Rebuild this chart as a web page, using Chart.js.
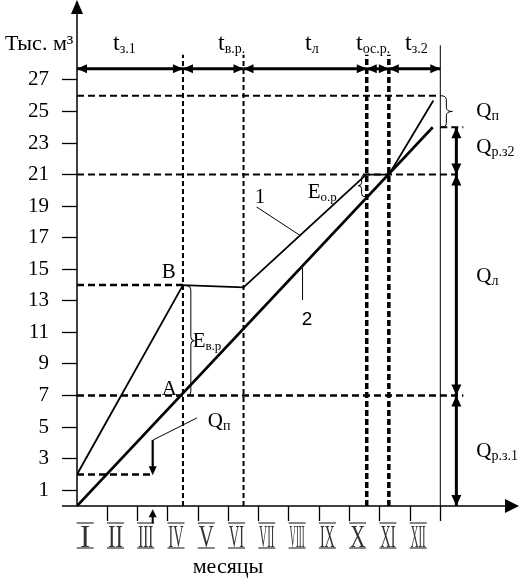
<!DOCTYPE html>
<html><head><meta charset="utf-8">
<script src="https://cdn.jsdelivr.net/npm/chart.js@4/dist/chart.umd.min.js"></script>
<style>html,body{margin:0;padding:0;background:#fff;}</style>
</head><body>
<canvas id="c" width="522" height="580"></canvas>
<script>
// ---- data ----
const months = ['I','II','III','IV','V','VI','VII','VIII','IX','X','XI','XII'];
const yTickValues = [1,3,5,7,9,11,13,15,17,19,21,23,25,27];
const line1X = [0, 3.5, 5.5, 9.55, 10.3, 11.77];
const line1Y = [2, 14, 13.85, 21, 21, 25.7];
const line2X = [0, 11.75];
const line2Y = [0, 24];
const periodBounds = [0, 3.5, 5.5, 9.57, 10.3, 12];
const periodSubs = ['з.1', 'в.р.', 'л', 'ос.р.', 'з.2'];
const levelY    = [2, 7, 14, 21, 24, 26];
const levelFrom = [0, 0, 0, 0, 12, 0];
const levelTo   = [2.5, 12.76, 3.5, 12.66, 12.76, 12];
const volumeBounds = [0, 7, 21, 24];

const SERIF = '"Liberation Serif", "DejaVu Serif", serif';

function seg(x1, y1, x2, y2, w, dash) {
  return { type: 'line', data: [{x: x1, y: y1}, {x: x2, y: y2}], borderColor: '#000',
    borderWidth: w, borderDash: dash || [], pointRadius: 0, fill: false, tension: 0 };
}
const datasets = [];
datasets.push({ type: 'line', label: '1', data: line1X.map((v, i) => ({x: v, y: line1Y[i]})),
  borderColor: '#000', borderWidth: 1.8, pointRadius: 0, fill: false, tension: 0 });
datasets.push({ type: 'line', label: '2', data: line2X.map((v, i) => ({x: v, y: line2Y[i]})),
  borderColor: '#000', borderWidth: 2.6, pointRadius: 0, fill: false, tension: 0 });
levelY.forEach((v, i) => datasets.push(seg(levelFrom[i], v, levelTo[i], v, (v === 7 || v === 2 || v === 14) ? 2.5 : 2, [7, 4])));
periodBounds.slice(1, 5).forEach((v, i) => datasets.push(seg(v, 0, v, 28.6, i < 2 ? 2 : 3.5, i < 2 ? [5, 3] : [6, 3])));
datasets.push(seg(12, 0, 12, 29.2, 1, []));

function head(ctx, x1, y1, x2, y2, len, w) {
  const a = Math.atan2(y2 - y1, x2 - x1), c = Math.cos(a), s = Math.sin(a);
  ctx.beginPath();
  ctx.moveTo(x2, y2);
  ctx.lineTo(x2 - len * c + w * s, y2 - len * s - w * c);
  ctx.lineTo(x2 - len * c - w * s, y2 - len * s + w * c);
  ctx.closePath(); ctx.fill();
}
function line(ctx, x1, y1, x2, y2, w) {
  ctx.lineWidth = w; ctx.beginPath(); ctx.moveTo(x1, y1); ctx.lineTo(x2, y2); ctx.stroke();
}
function brace(ctx, x, y1, y2, d, a, r) {
  const m = (y1 + y2) / 2;
  ctx.lineWidth = 1; ctx.beginPath();
  ctx.moveTo(x - d * a / 2, y1);
  ctx.quadraticCurveTo(x, y1, x, y1 + r);
  ctx.lineTo(x, m - r);
  ctx.quadraticCurveTo(x, m, x + d * a / 2, m);
  ctx.quadraticCurveTo(x, m, x, m + r);
  ctx.lineTo(x, y2 - r);
  ctx.quadraticCurveTo(x, y2, x - d * a / 2, y2);
  ctx.stroke();
}
function sub(ctx, main, s, x, y, ms, ss, dy) {
  ctx.textAlign = 'left'; ctx.textBaseline = 'alphabetic';
  ctx.font = ms + 'px ' + SERIF;
  ctx.fillText(main, x, y);
  const w = ctx.measureText(main).width;
  ctx.font = ss + 'px ' + SERIF;
  ctx.fillText(s, x + w, y + dy);
}

const annot = {
  id: 'annot',
  afterDraw(chart) {
    const ctx = chart.ctx, xs = chart.scales.x, ys = chart.scales.y;
    const X = v => xs.getPixelForValue(v), Y = v => ys.getPixelForValue(v);
    ctx.save();
    ctx.fillStyle = '#000'; ctx.strokeStyle = '#000'; ctx.lineCap = 'butt';
    // axis arrows
    line(ctx, X(0), Y(0), X(0), 2, 1.5);
    head(ctx, X(0), 20, X(0), 0, 14, 6);
    line(ctx, X(0) - 15, Y(0), 516, Y(0), 1.5);
    head(ctx, 500, Y(0), 519, Y(0), 14, 7);
    // month labels (compressed roman numerals with bars)
    const mTop = 523, mBot = 548;
    months.forEach((m, i) => {
      const cx = X(i + 0.27);
      ctx.font = '31px ' + SERIF;
      const w = ctx.measureText(m).width;
      const sc = Math.min(1, 15 / w);
      ctx.save();
      ctx.translate(cx, mBot - 1);
      ctx.scale(sc, 1);
      ctx.textAlign = 'center'; ctx.textBaseline = 'alphabetic';
      ctx.fillStyle = '#333';
      ctx.fillText(m, 0, 0);
      ctx.restore();
      ctx.strokeStyle = '#333';
      line(ctx, cx - 8.5, mTop, cx + 8.5, mTop, 1.2);
      line(ctx, cx - 8.5, mBot, cx + 8.5, mBot, 1.2);
      ctx.strokeStyle = '#000';
    });
    // top period arrows
    const ty = Y(27.7);
    for (let i = 0; i < periodBounds.length - 1; i++) {
      const a = X(periodBounds[i]), b = X(periodBounds[i + 1]);
      line(ctx, a, ty, b, ty, 3);
      head(ctx, b, ty, a, ty, 10, 4.5);
      head(ctx, a, ty, b, ty, 10, 4.5);
      sub(ctx, 't', periodSubs[i], [113, 218, 305, 356, 405][i], 50, 24, 14, 3);
    }
    // right volume arrows
    const rx = X(12.53);
    for (let i = 0; i < volumeBounds.length - 1; i++) {
      const a = Y(volumeBounds[i]), b = Y(volumeBounds[i + 1]);
      line(ctx, rx, a, rx, b, 3);
      head(ctx, rx, b, rx, a, 11, 5);
      head(ctx, rx, a, rx, b, 11, 5);
    }
    // braces
    brace(ctx, X(12.2), Y(26), Y(24), 1, 12, 4);
    brace(ctx, X(3.76), Y(13.95), Y(7), 1, 7, 4);
    brace(ctx, X(9.4), Y(21), Y(19.6), -1, 7, 3);
    // leaders
    line(ctx, X(5.93), Y(18.95), X(7.35), Y(17.17), 1);
    line(ctx, X(7.45), Y(15.08), X(7.45), Y(13.05), 1);
    line(ctx, X(3.96), Y(5.58), X(2.51), Y(4.18), 1);
    line(ctx, X(2.5), Y(4.18), X(2.5), Y(2.3), 2.2);
    head(ctx, X(2.5), Y(3), X(2.5), Y(1.95), 9, 4);
    line(ctx, X(2.5), Y(-1.1), X(2.5), Y(-0.5), 2);
    head(ctx, X(2.5), Y(-1), X(2.5), Y(-0.2), 8, 4);
    // labels
    ctx.font = '22px ' + SERIF; ctx.textAlign = 'left'; ctx.textBaseline = 'alphabetic';
    ctx.fillText('Тыс. м³', 5, 50);
    ctx.font = '21px ' + SERIF;
    ctx.fillText('B', X(2.8), Y(14.45));
    ctx.fillText('A', X(2.8), Y(7.05));
    ctx.fillText('1', X(5.87), Y(19.2));
    ctx.font = '19px "Liberation Sans", sans-serif';
    ctx.fillText('2', X(7.42), Y(11.47));
    sub(ctx, 'E', 'в.р', X(3.82), Y(10.08), 21, 13, 3);
    sub(ctx, 'E', 'о.р', X(7.62), Y(19.52), 21, 13, 3);
    sub(ctx, 'Q', 'п', X(4.32), Y(5.0), 21, 14, 3);
    sub(ctx, 'Q', 'п', X(13.19), Y(24.65), 21, 14, 3);
    sub(ctx, 'Q', 'р.з2', X(13.19), Y(22.37), 21, 14, 3);
    sub(ctx, 'Q', 'л', X(13.19), Y(14.2), 21, 14, 3);
    sub(ctx, 'Q', 'р.з.1', X(13.19), Y(3.1), 21, 14, 3);
    ctx.font = '22px ' + SERIF; ctx.textAlign = 'center';
    ctx.fillText('месяцы', 228, 573);
    ctx.restore();
  }
};

function noPad(s) { s.paddingTop = 0; s.paddingBottom = 0; s.paddingLeft = 0; s.paddingRight = 0; }

new Chart(document.getElementById('c'), {
  data: { datasets },
  options: {
    responsive: false, animation: false, devicePixelRatio: 1,
    layout: { autoPadding: false, padding: { top: 1, right: 6, left: 0, bottom: 0 } },
    plugins: { legend: { display: false }, tooltip: { enabled: false } },
    scales: {
      x: {
        type: 'linear', min: 0, max: 14.5,
        afterBuildTicks(s) {
          const t = [];
          for (let k = 1; k <= 12; k++) t.push({ value: k });
          s.ticks = t;
        },
        afterFit(s) { s.height = 74; noPad(s); },
        grid: { drawOnChartArea: false, drawTicks: true, tickLength: 15, tickWidth: 1.3, tickColor: '#000' },
        border: { display: false },
        ticks: { autoSkip: false, maxRotation: 0, callback: () => '' }
      },
      y: {
        type: 'linear', min: 0, max: 32,
        afterBuildTicks(s) { s.ticks = yTickValues.map(v => ({ value: v })); },
        afterFit(s) { s.width = 77; noPad(s); },
        grid: { drawOnChartArea: false, drawTicks: true, tickLength: 15, tickWidth: 1.3, tickColor: '#000' },
        border: { display: false },
        ticks: { padding: 13, color: '#000', font: { family: SERIF, size: 21 },
          callback: v => String(v) }
      }
    }
  },
  plugins: [annot]
});
</script>
</body></html>
